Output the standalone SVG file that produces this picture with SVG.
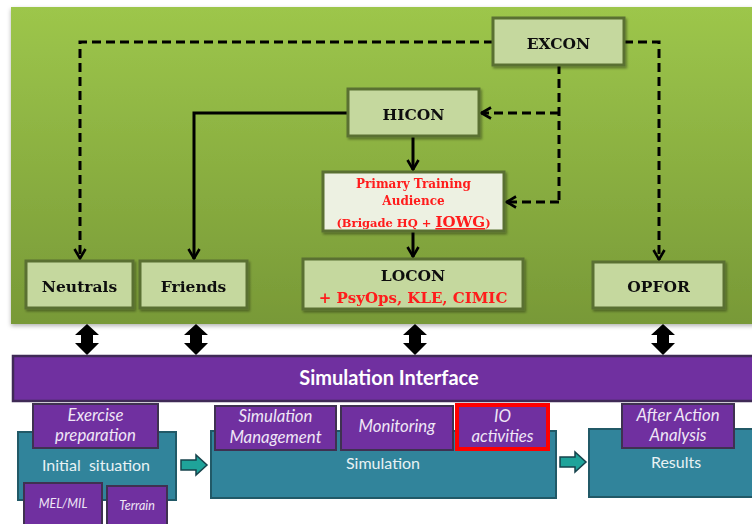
<svg xmlns="http://www.w3.org/2000/svg" width="752" height="524" viewBox="0 0 752 524">
  <defs>
    <linearGradient id="panelGrad" x1="0" y1="0" x2="0" y2="1">
      <stop offset="0" stop-color="#9dc64b"/>
      <stop offset="1" stop-color="#789937"/>
    </linearGradient>
    <filter id="panelShadow" x="-5%" y="-5%" width="110%" height="115%">
      <feDropShadow dx="0" dy="2" stdDeviation="2" flood-color="#000" flood-opacity="0.3"/>
    </filter>
    <filter id="boxShadow" x="-10%" y="-10%" width="125%" height="130%">
      <feDropShadow dx="1.5" dy="2" stdDeviation="1" flood-color="#000" flood-opacity="0.35"/>
    </filter>
    <marker id="chev" viewBox="0 0 12 14" refX="11" refY="7" markerWidth="12" markerHeight="14" markerUnits="userSpaceOnUse" orient="auto">
      <path d="M1,1.5 L10.5,7 L1,12.5" fill="none" stroke="#000" stroke-width="2.6" stroke-dasharray="none"/>
    </marker>
    <style>
      .ctl { fill: #c5d89e; stroke: #5a7030; stroke-width: 3; }
      .pta { fill: #edf1e2; stroke: #5a7030; stroke-width: 3; }
      .lbl { font-family: "DejaVu Serif", serif; font-weight: bold; font-size: 15.5px; fill: #111; text-anchor: middle; }
      .red { font-family: "DejaVu Serif", serif; font-weight: bold; fill: #ff1a1a; text-anchor: middle; }
      .solid { fill: none; stroke: #000; stroke-width: 3; }
      .dash { fill: none; stroke: #000; stroke-width: 3; stroke-dasharray: 9 5; }
      .dbl { fill: #000; }
      .purp { fill: #7030a0; stroke: #3f3151; stroke-width: 2; }
      .teal { fill: #31849b; stroke: #215967; stroke-width: 2; }
      .tarrow { fill: #1fa39a; stroke: #17434c; stroke-width: 1.5; }
      .it { font-family: Lato, "Open Sans", sans-serif; font-style: italic; font-size: 16.8px; fill: #efe6f6; text-anchor: middle; }
      .sm { font-family: Lato, "Open Sans", sans-serif; font-style: italic; font-size: 12.5px; fill: #efe6f6; text-anchor: middle; }
      .tl { font-family: Lato, "Open Sans", sans-serif; font-size: 16px; fill: #e8f2f4; text-anchor: middle; }
    </style>
  </defs>

  <!-- control-level background panel -->
  <rect id="panel" x="11" y="7" width="745" height="317" fill="url(#panelGrad)" filter="url(#panelShadow)"/>

  <!-- connectors -->
  <g id="connectors">
    <path class="dash" d="M493,42 H80 V259" marker-end="url(#chev)"/>
    <path class="dash" d="M559,65 V202"/>
    <path class="dash" d="M559,113 H481" marker-end="url(#chev)"/>
    <path class="dash" d="M559,202 H506" marker-end="url(#chev)"/>
    <path class="dash" d="M624,42 H659 V260" marker-end="url(#chev)"/>
    <path class="solid" d="M348,113 H194 V259" marker-end="url(#chev)"/>
    <path class="solid" d="M413,136 V170" marker-end="url(#chev)"/>
    <path class="solid" d="M413,231 V257" marker-end="url(#chev)"/>
    <!-- two-way links to the simulation interface -->
    <polygon class="dbl" points="87,324 99,335 93,335 93,343 99,343 87,355 75,343 81,343 81,335 75,335"/>
    <polygon class="dbl" points="196,324 208,335 202,335 202,343 208,343 196,355 184,343 190,343 190,335 184,335"/>
    <polygon class="dbl" points="415,324 427,335 421,335 421,343 427,343 415,355 403,343 409,343 409,335 403,335"/>
    <polygon class="dbl" points="663,324 675,335 669,335 669,343 675,343 663,355 651,343 657,343 657,335 651,335"/>
    <!-- flow arrows between phases -->
    <polygon class="tarrow" points="181,460 196,460 196,455 207,465 196,475 196,470 181,470"/>
    <polygon class="tarrow" points="560,457 575,457 575,452 586,462 575,472 575,467 560,467"/>
  </g>

  <g id="excon" filter="url(#boxShadow)">
    <rect class="ctl" x="493" y="18" width="131" height="47"/>
    <text class="lbl" x="558.5" y="49">EXCON</text>
  </g>

  <g id="hicon" filter="url(#boxShadow)">
    <rect class="ctl" x="348" y="89" width="131" height="47"/>
    <text class="lbl" x="413.5" y="120">HICON</text>
  </g>

  <g id="pta" filter="url(#boxShadow)">
    <rect class="pta" x="323" y="172" width="181" height="59"/>
    <text class="red" x="413.5" y="188" font-size="12">Primary Training</text>
    <text class="red" x="413.5" y="205" font-size="12">Audience</text>
    <text class="red" x="413.5" y="227" font-size="11.5">(Brigade HQ + <tspan font-size="15" text-decoration="underline">IOWG</tspan>)</text>
  </g>

  <g id="neutrals" filter="url(#boxShadow)">
    <rect class="ctl" x="26" y="261" width="107" height="47"/>
    <text class="lbl" x="79.5" y="292">Neutrals</text>
  </g>

  <g id="friends" filter="url(#boxShadow)">
    <rect class="ctl" x="140" y="261" width="107" height="47"/>
    <text class="lbl" x="193.5" y="292">Friends</text>
  </g>

  <g id="locon" filter="url(#boxShadow)">
    <rect class="ctl" x="303" y="259" width="220" height="50"/>
    <text class="lbl" x="413" y="281">LOCON</text>
    <text class="red" x="413" y="303" font-size="15">+ PsyOps, KLE, CIMIC</text>
  </g>

  <g id="opfor" filter="url(#boxShadow)">
    <rect class="ctl" x="593" y="262" width="131" height="46"/>
    <text class="lbl" x="658.5" y="292">OPFOR</text>
  </g>

  <g id="sim-interface">
    <rect x="13" y="356" width="745" height="45" fill="#7030a0" stroke="#3f2a56" stroke-width="2.5"/>
    <text x="389" y="385" font-family="Lato, 'Open Sans', sans-serif" font-weight="bold" font-size="20" fill="#ffffff" text-anchor="middle">Simulation Interface</text>
  </g>

  <g id="initial-situation">
    <rect class="teal" x="18" y="432" width="158" height="68"/>
    <text class="tl" x="96" y="471" xml:space="preserve">Initial  situation</text>
  </g>

  <g id="exercise-prep">
    <rect class="purp" x="33" y="404" width="125" height="44"/>
    <text class="it" x="95.5" y="421">Exercise</text>
    <text class="it" x="95.5" y="441">preparation</text>
  </g>

  <g id="mel-mil">
    <rect class="purp" x="24" y="483" width="78" height="50"/>
    <text class="sm" x="63" y="508">MEL/MIL</text>
  </g>

  <g id="terrain">
    <rect class="purp" x="107" y="486" width="60" height="50"/>
    <text class="sm" x="137" y="510">Terrain</text>
  </g>

  <g id="simulation">
    <rect class="teal" x="211" y="431" width="345" height="67"/>
    <text class="tl" x="383" y="469">Simulation</text>
  </g>

  <g id="sim-management">
    <rect class="purp" x="215" y="406" width="121" height="44"/>
    <text class="it" x="275.5" y="422">Simulation</text>
    <text class="it" x="275.5" y="443">Management</text>
  </g>

  <g id="monitoring">
    <rect class="purp" x="341" y="406" width="112" height="44"/>
    <text class="it" x="397" y="432">Monitoring</text>
  </g>

  <g id="io-activities">
    <rect x="457" y="405" width="91" height="44" fill="#7030a0" stroke="#ff0000" stroke-width="4"/>
    <text class="it" x="502.5" y="422">IO</text>
    <text class="it" x="502.5" y="442">activities</text>
  </g>

  <g id="results">
    <rect class="teal" x="589" y="429" width="170" height="68"/>
    <text class="tl" x="676" y="468">Results</text>
  </g>

  <g id="after-action">
    <rect class="purp" x="622" y="404" width="112" height="44"/>
    <text class="it" x="678" y="421">After Action</text>
    <text class="it" x="678" y="441">Analysis</text>
  </g>
</svg>
